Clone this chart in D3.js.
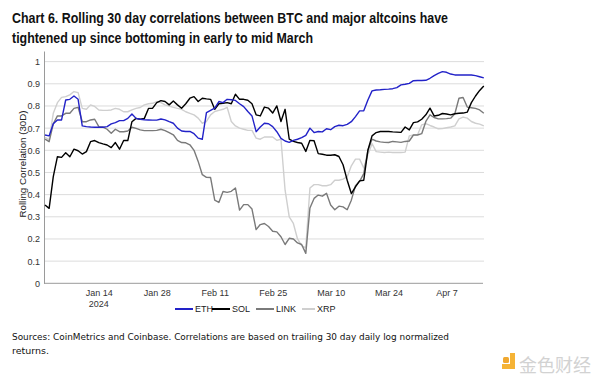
<!DOCTYPE html>
<html><head><meta charset="utf-8">
<script src="https://cdn.jsdelivr.net/npm/d3@7"></script>
<style>body{margin:0;background:#fff;}svg{display:block;}</style>
</head><body>
<svg id="chart" width="600" height="381"></svg>
<script>
const startDate = "2024-01-01";
const seriesNames = ["ETH", "SOL", "LINK", "XRP"];
const seriesColors = ["#2222c8", "#000000", "#7a7a7a", "#cfcfcf"];
const yTicks = [0,0.1,0.2,0.3,0.4,0.5,0.6,0.7,0.8,0.9,1];
const xTickLabels = ["2024-01-14","2024-01-28","2024-02-11","2024-02-25","2024-03-10","2024-03-24","2024-04-07"];

const eth = [0.669,0.665,0.72,0.737,0.737,0.827,0.83,0.845,0.83,0.71,0.707,0.705,0.704,0.704,0.704,0.707,0.719,0.725,0.734,0.734,
0.744,0.764,0.744,0.74,0.738,0.737,0.736,0.736,0.741,0.737,0.729,0.722,0.70,0.687,0.685,0.685,0.675,0.655,0.65,0.77,
0.78,0.79,0.82,0.815,0.83,0.828,0.825,0.81,0.797,0.775,0.755,0.684,0.705,0.722,0.72,0.707,0.684,0.654,0.642,0.636,
0.645,0.65,0.657,0.667,0.70,0.68,0.685,0.683,0.697,0.693,0.707,0.713,0.711,0.717,0.729,0.752,0.778,0.778,0.827,0.868,
0.872,0.873,0.875,0.876,0.878,0.883,0.895,0.898,0.902,0.914,0.915,0.915,0.916,0.925,0.937,0.947,0.955,0.952,0.944,0.94,
0.94,0.94,0.94,0.94,0.937,0.932,0.927];

const sol = [0.353,0.338,0.481,0.571,0.568,0.589,0.571,0.605,0.598,0.583,0.594,0.639,0.644,0.635,0.629,0.624,0.612,0.635,0.605,0.644,
0.644,0.729,0.744,0.74,0.744,0.789,0.79,0.815,0.824,0.82,0.805,0.822,0.805,0.79,0.81,0.835,0.842,0.82,0.835,0.832,
0.83,0.785,0.81,0.812,0.815,0.81,0.853,0.83,0.83,0.826,0.81,0.76,0.755,0.795,0.79,0.768,0.80,0.73,0.785,0.65,
0.64,0.635,0.632,0.595,0.645,0.643,0.585,0.582,0.578,0.578,0.58,0.572,0.535,0.465,0.405,0.435,0.462,0.465,0.60,0.665,
0.68,0.685,0.685,0.685,0.683,0.682,0.681,0.705,0.692,0.725,0.728,0.74,0.76,0.79,0.755,0.758,0.766,0.764,0.76,0.765,
0.767,0.768,0.772,0.815,0.845,0.87,0.89];

const link = [0.65,0.639,0.719,0.755,0.755,0.767,0.767,0.789,0.794,0.729,0.729,0.737,0.74,0.707,0.705,0.695,0.677,0.695,0.684,0.684,
0.687,0.704,0.699,0.692,0.689,0.689,0.689,0.69,0.695,0.689,0.68,0.67,0.645,0.635,0.634,0.625,0.60,0.55,0.49,0.478,
0.477,0.375,0.365,0.414,0.41,0.415,0.43,0.33,0.355,0.355,0.335,0.242,0.265,0.27,0.256,0.235,0.232,0.21,0.175,0.203,
0.2,0.182,0.175,0.135,0.34,0.383,0.398,0.393,0.406,0.353,0.332,0.348,0.345,0.332,0.375,0.44,0.46,0.495,0.60,0.65,
0.642,0.638,0.636,0.635,0.64,0.638,0.636,0.64,0.642,0.669,0.669,0.675,0.73,0.76,0.748,0.742,0.742,0.743,0.745,0.765,
0.835,0.838,0.795,0.792,0.789,0.782,0.767];

const xrp = [0.659,0.647,0.767,0.815,0.839,0.842,0.85,0.865,0.86,0.789,0.785,0.805,0.798,0.782,0.78,0.78,0.782,0.789,0.785,0.774,
0.774,0.782,0.789,0.793,0.805,0.81,0.812,0.82,0.815,0.805,0.8,0.794,0.789,0.785,0.774,0.767,0.76,0.745,0.722,0.73,
0.76,0.775,0.78,0.785,0.794,0.73,0.71,0.70,0.695,0.69,0.69,0.655,0.65,0.66,0.66,0.66,0.645,0.65,0.42,0.30,
0.27,0.20,0.17,0.16,0.43,0.445,0.445,0.44,0.44,0.445,0.465,0.465,0.47,0.48,0.53,0.56,0.56,0.52,0.58,0.63,
0.594,0.592,0.59,0.592,0.59,0.59,0.59,0.592,0.665,0.669,0.67,0.715,0.72,0.712,0.705,0.697,0.698,0.702,0.705,0.71,
0.742,0.75,0.745,0.73,0.722,0.718,0.71];

const allSeries = [eth, sol, link, xrp];
const parse = d3.timeParse("%Y-%m-%d");
const t0 = parse(startDate);
const dates = eth.map((_, i) => d3.timeDay.offset(t0, i));

const svg = d3.select("#chart");
const x = d3.scaleTime().domain([t0, dates[dates.length-1]]).range([45, 483.8]);
const y = d3.scaleLinear().domain([0, 1.048]).range([283.3, 51]);
const FONT = "Liberation Sans, Arial, sans-serif";

// gridlines
svg.append("g").selectAll("line").data(yTicks.filter(v => v > 0)).join("line")
  .attr("x1", 44).attr("x2", 484).attr("y1", d => y(d)).attr("y2", d => y(d))
  .attr("stroke", "#dcdcdc").attr("stroke-width", 1);

// y axis
const yAxis = d3.axisLeft(y).tickValues(yTicks).tickSize(0).tickPadding(4).tickFormat(d => d3.format("~g")(d));
const yg = svg.append("g").attr("transform", "translate(44,0)").call(yAxis);
yg.select(".domain").attr("stroke", "#9a9a9a");
yg.selectAll("text").attr("font-family", FONT).attr("font-size", 9).attr("fill", "#333");

// x axis
const xAxis = d3.axisBottom(x).tickValues(xTickLabels.map(parse)).tickSize(0).tickPadding(6).tickFormat(d3.timeFormat("%b %-d"));
const xg = svg.append("g").attr("transform", "translate(0,283.3)").call(xAxis);
xg.select(".domain").attr("stroke", "#9a9a9a").attr("d", "M44,0H483");
xg.selectAll("text").attr("font-family", FONT).attr("font-size", 9).attr("fill", "#333");
xg.append("text").attr("x", x(parse(xTickLabels[0]))).attr("y", 23.5).attr("text-anchor", "middle")
  .attr("font-family", FONT).attr("font-size", 9).attr("fill", "#333").text("2024");

// y title
svg.append("text").attr("transform", "translate(25.5,164) rotate(-90)").attr("text-anchor", "middle")
  .attr("font-family", FONT).attr("font-size", 9.5).attr("fill", "#222")
  .attr("textLength", 107).attr("lengthAdjust", "spacingAndGlyphs")
  .text("Rolling Correlation (30D)");

// lines (draw light first)
const line = d3.line().x((d, i) => x(dates[i])).y(d => y(d));
[3, 2, 1, 0].forEach(k => {
  svg.append("path").datum(allSeries[k]).attr("d", line).attr("fill", "none")
    .attr("stroke", seriesColors[k]).attr("stroke-width", 1.4).attr("stroke-linejoin", "round");
});

// legend
const legX = [175, 212, 256, 302];
const legW = [18, 18, 18, 13];
const lg = svg.append("g");
seriesNames.forEach((n, i) => {
  lg.append("line").attr("x1", legX[i]).attr("x2", legX[i] + legW[i]).attr("y1", 309).attr("y2", 309)
    .attr("stroke", seriesColors[i]).attr("stroke-width", 2);
  lg.append("text").attr("x", legX[i] + legW[i] + 2).attr("y", 312.2)
    .attr("font-family", FONT).attr("font-size", 9).attr("fill", "#222").text(n);
});

// title
const title = svg.append("g").attr("font-family", FONT).attr("font-weight", "bold").attr("fill", "#111");
title.append("text").attr("x", 12).attr("y", 23).attr("font-size", 15.5)
  .attr("textLength", 436).attr("lengthAdjust", "spacingAndGlyphs")
  .text("Chart 6. Rolling 30 day correlations between BTC and major altcoins have");
title.append("text").attr("x", 12).attr("y", 43).attr("font-size", 15.5)
  .attr("textLength", 301).attr("lengthAdjust", "spacingAndGlyphs")
  .text("tightened up since bottoming in early to mid March");

// footer
const foot = svg.append("g").attr("font-family", "DejaVu Sans, Verdana, sans-serif").attr("font-size", 9.5).attr("fill", "#111");
foot.append("text").attr("x", 12).attr("y", 340).attr("textLength", 437).attr("lengthAdjust", "spacingAndGlyphs")
  .text("Sources: CoinMetrics and Coinbase. Correlations are based on trailing 30 day daily log normalized");
foot.append("text").attr("x", 12).attr("y", 354).text("returns.");

// watermark
const wm = svg.append("g");
wm.append("rect").attr("x", 503).attr("y", 357).attr("width", 6).attr("height", 6).attr("rx", 1.5).attr("fill", "#f0a830");
wm.append("path").attr("d", "M510,353 h5 v16 h-13 v-5 h8 z").attr("fill", "#f5b335");
wm.append("text").attr("x", 519).attr("y", 372).attr("font-family", "Noto Sans CJK SC, sans-serif")
  .attr("font-size", 18).attr("fill", "#d2d2d2").text("金色财经");
</script>
</body></html>
